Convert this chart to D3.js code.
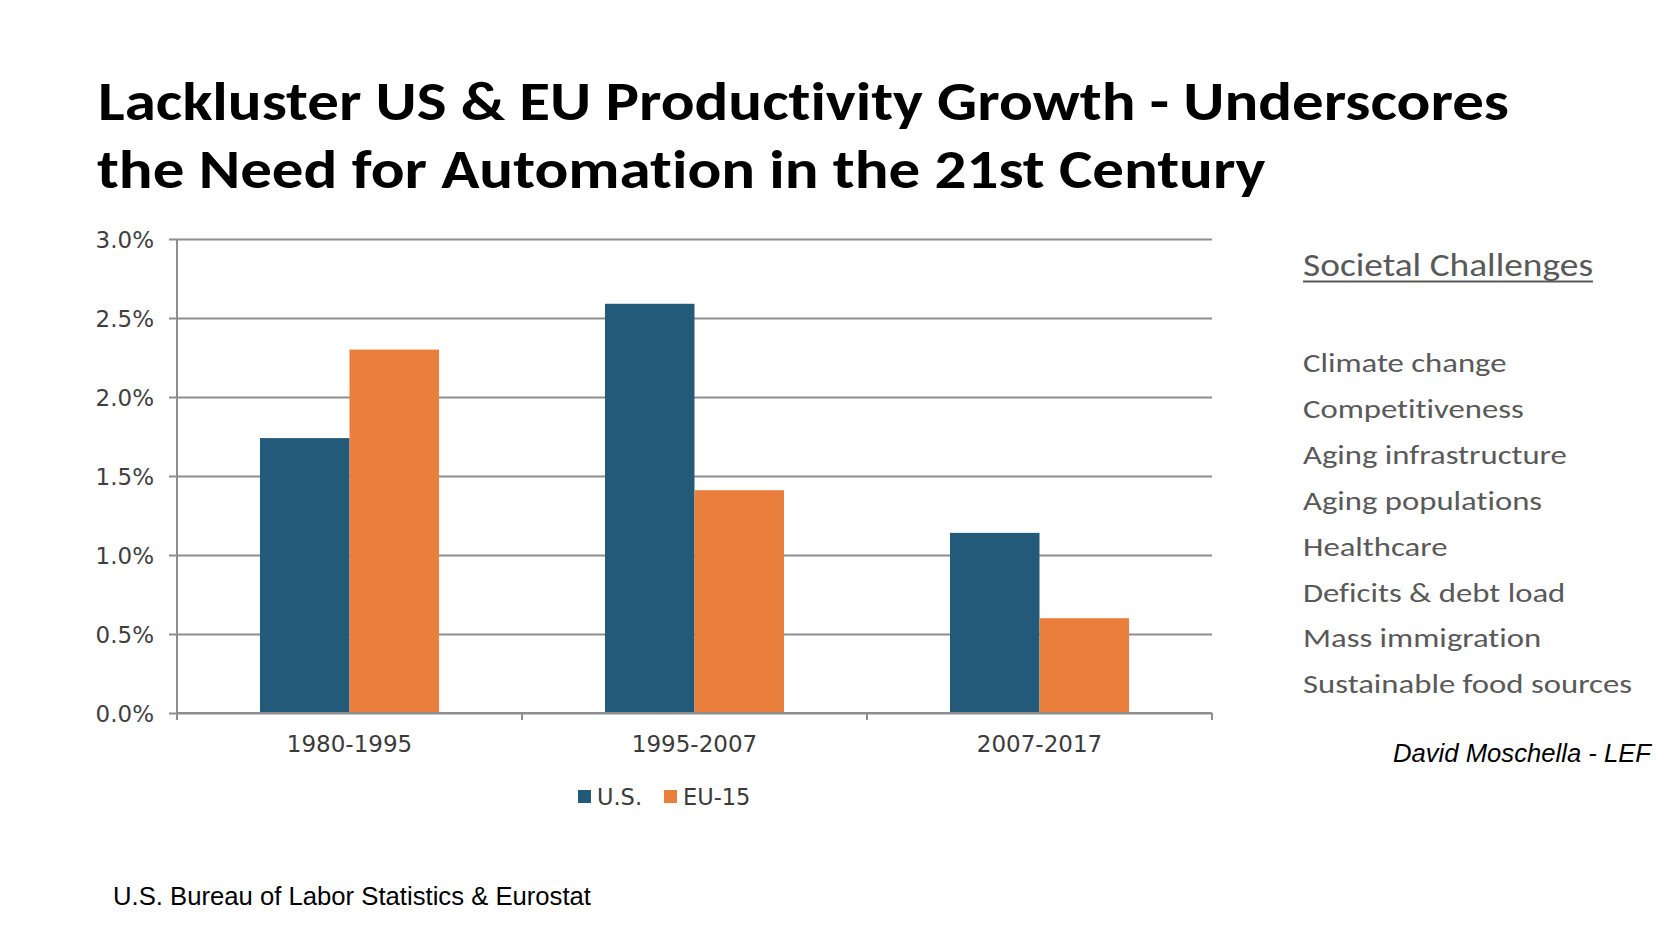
<!DOCTYPE html>
<html>
<head>
<meta charset="utf-8">
<script src="https://cdn.jsdelivr.net/npm/d3@7"></script>
<style>
  html, body { margin: 0; padding: 0; background: #ffffff; }
  svg { display: block; }
  text { font-variant-ligatures: none; font-feature-settings: "liga" 0, "clig" 0; }
</style>
</head>
<body>
<svg id="chart" width="1678" height="944"></svg>
<script>
// ---------------- data ----------------
const categories = ["1980-1995", "1995-2007", "2007-2017"];
const seriesNames = ["U.S.", "EU-15"];
const usValues = [0.0174, 0.0259, 0.0114];
const euValues = [0.0230, 0.0141, 0.0060];
const yTicks = [0, 0.005, 0.01, 0.015, 0.02, 0.025, 0.03];
const titleLines = [
  "Lackluster US & EU Productivity Growth - Underscores",
  "the Need for Automation in the 21st Century"
];
const challengesHeader = "Societal Challenges";
const challenges = [
  "Climate change", "Competitiveness", "Aging infrastructure", "Aging populations",
  "Healthcare", "Deficits & debt load", "Mass immigration", "Sustainable food sources"
];
const sourceText = "U.S. Bureau of Labor Statistics & Eurostat";
const authorText = "David Moschella - LEF";

const seriesValues = [usValues, euValues];
const colors = ["#235a79", "#ea7e3c"];

// ---------------- layout ----------------
const svg = d3.select("#chart");
const plot = { left: 177, right: 1212, top: 239, bottom: 713 };

const x0 = d3.scaleBand().domain(categories).range([plot.left, plot.right]).padding(0);
const x1 = d3.scaleBand().domain(seriesNames).range([0, x0.bandwidth()]).paddingInner(0).paddingOuter(0.927);
const y = d3.scaleLinear().domain([0, 0.03]).range([plot.bottom, plot.top]);

const gridColor = "#8e8e8e";

function fitWidth(textSel, target) {
  const w = textSel.node().getComputedTextLength();
  if (w > 0) {
    textSel.attr("textLength", target).attr("lengthAdjust", "spacingAndGlyphs");
  }
}

// ---------------- title ----------------
const titleG = svg.append("g");
const t1 = titleG.append("text")
  .attr("x", 98).attr("y", 120)
  .attr("font-family", "Carlito, Calibri, Lato, sans-serif")
  .attr("font-weight", 700).attr("font-size", 55)
  .attr("fill", "#000")
  .text(titleLines[0]);
const t1w = t1.node().getComputedTextLength();
const titleScale = 1411 / t1w;
fitWidth(t1, 1411);
const t2 = titleG.append("text")
  .attr("x", 97).attr("y", 188)
  .attr("font-family", "Carlito, Calibri, Lato, sans-serif")
  .attr("font-weight", 700).attr("font-size", 55)
  .attr("fill", "#000")
  .text(titleLines[1]);
const t2w = t2.node().getComputedTextLength();
t2.attr("textLength", t2w * titleScale).attr("lengthAdjust", "spacingAndGlyphs");

// ---------------- gridlines & y axis ----------------
const yAxis = d3.axisLeft(y)
  .tickValues(yTicks)
  .tickFormat(d3.format(".1%"))
  .tickSize(-(plot.right - plot.left))
  .tickPadding(0);

const yG = svg.append("g")
  .attr("transform", `translate(${plot.left},0)`)
  .call(yAxis);
yG.select(".domain").remove();
yG.selectAll(".tick line")
  .attr("x1", -8)
  .attr("stroke", gridColor).attr("stroke-width", 2);
yG.selectAll(".tick text")
  .attr("x", -23)
  .attr("dy", "0.36em")
  .attr("font-family", "DejaVu Sans, sans-serif")
  .attr("font-size", 23)
  .attr("fill", "#3f3f3f");

svg.append("line")
  .attr("x1", plot.left).attr("x2", plot.left)
  .attr("y1", plot.top).attr("y2", plot.bottom + 7)
  .attr("stroke", gridColor).attr("stroke-width", 2);

// ---------------- bars ----------------
const groups = svg.append("g").selectAll("g")
  .data(categories)
  .join("g")
  .attr("transform", d => `translate(${x0(d)},0)`);

groups.selectAll("rect")
  .data((d, i) => seriesNames.map((s, j) => ({ s, j, v: seriesValues[j][i] })))
  .join("rect")
  .attr("x", d => x1(d.s))
  .attr("width", x1.bandwidth())
  .attr("y", d => y(d.v))
  .attr("height", d => y(0) - y(d.v))
  .attr("fill", d => colors[d.j]);

// ---------------- x axis ----------------
const xG = svg.append("g").attr("transform", `translate(0,${plot.bottom})`);
xG.append("line")
  .attr("x1", plot.left).attr("x2", plot.right)
  .attr("y1", 0).attr("y2", 0)
  .attr("stroke", gridColor).attr("stroke-width", 2);
const boundaries = categories.map(c => x0(c)).concat([x0(categories[categories.length - 1]) + x0.bandwidth()]);
xG.selectAll("line.tk")
  .data(boundaries)
  .join("line")
  .attr("class", "tk")
  .attr("x1", d => d).attr("x2", d => d)
  .attr("y1", 0).attr("y2", 7)
  .attr("stroke", gridColor).attr("stroke-width", 2);
xG.selectAll("text")
  .data(categories)
  .join("text")
  .attr("x", d => x0(d) + x0.bandwidth() / 2)
  .attr("y", 39)
  .attr("text-anchor", "middle")
  .attr("font-family", "DejaVu Sans, sans-serif")
  .attr("font-size", 23)
  .attr("fill", "#3a3a3a")
  .text(d => d);

// ---------------- legend ----------------
const legendPos = [578, 664];
const legend = svg.append("g");
const li = legend.selectAll("g")
  .data(seriesNames)
  .join("g")
  .attr("transform", (d, i) => `translate(${legendPos[i]},790)`);
li.append("rect")
  .attr("width", 13).attr("height", 13)
  .attr("fill", (d, i) => colors[i]);
li.append("text")
  .attr("x", 19).attr("y", 15)
  .attr("font-family", "DejaVu Sans, sans-serif")
  .attr("font-size", 22.5)
  .attr("fill", "#3a3a3a")
  .text(d => d);

// ---------------- right panel ----------------
const panel = svg.append("g");
const hdr = panel.append("text")
  .attr("x", 1303).attr("y", 276)
  .attr("font-family", "Carlito, Calibri, Lato, sans-serif")
  .attr("font-size", 32)
  .attr("fill", "#595959")
  .text(challengesHeader);
fitWidth(hdr, 290);
panel.append("line")
  .attr("x1", 1303).attr("x2", 1593)
  .attr("y1", 281.5).attr("y2", 281.5)
  .attr("stroke", "#595959").attr("stroke-width", 2);

const items = panel.selectAll("text.item")
  .data(challenges)
  .join("text")
  .attr("class", "item")
  .attr("x", 1303)
  .attr("y", (d, i) => 372 + i * 45.9)
  .attr("font-family", "Carlito, Calibri, Lato, sans-serif")
  .attr("font-size", 26.5)
  .attr("fill", "#595959")
  .text(d => d);
const longest = items.filter(d => d === challenges[challenges.length - 1]);
const itemScale = 329 / longest.node().getComputedTextLength();
items.each(function () {
  const w = this.getComputedTextLength();
  d3.select(this).attr("textLength", w * itemScale).attr("lengthAdjust", "spacingAndGlyphs");
});

// author
const au = svg.append("text")
  .attr("x", 1651).attr("y", 762)
  .attr("text-anchor", "end")
  .attr("font-family", "Liberation Sans, Arial, sans-serif")
  .attr("font-style", "italic")
  .attr("font-size", 25.5)
  .attr("fill", "#000")
  .text(authorText);
fitWidth(au, 258);

// source
const src = svg.append("text")
  .attr("x", 113).attr("y", 905)
  .attr("font-family", "Liberation Sans, Arial, sans-serif")
  .attr("font-size", 25.5)
  .attr("fill", "#000")
  .text(sourceText);
fitWidth(src, 478);
</script>
</body>
</html>
